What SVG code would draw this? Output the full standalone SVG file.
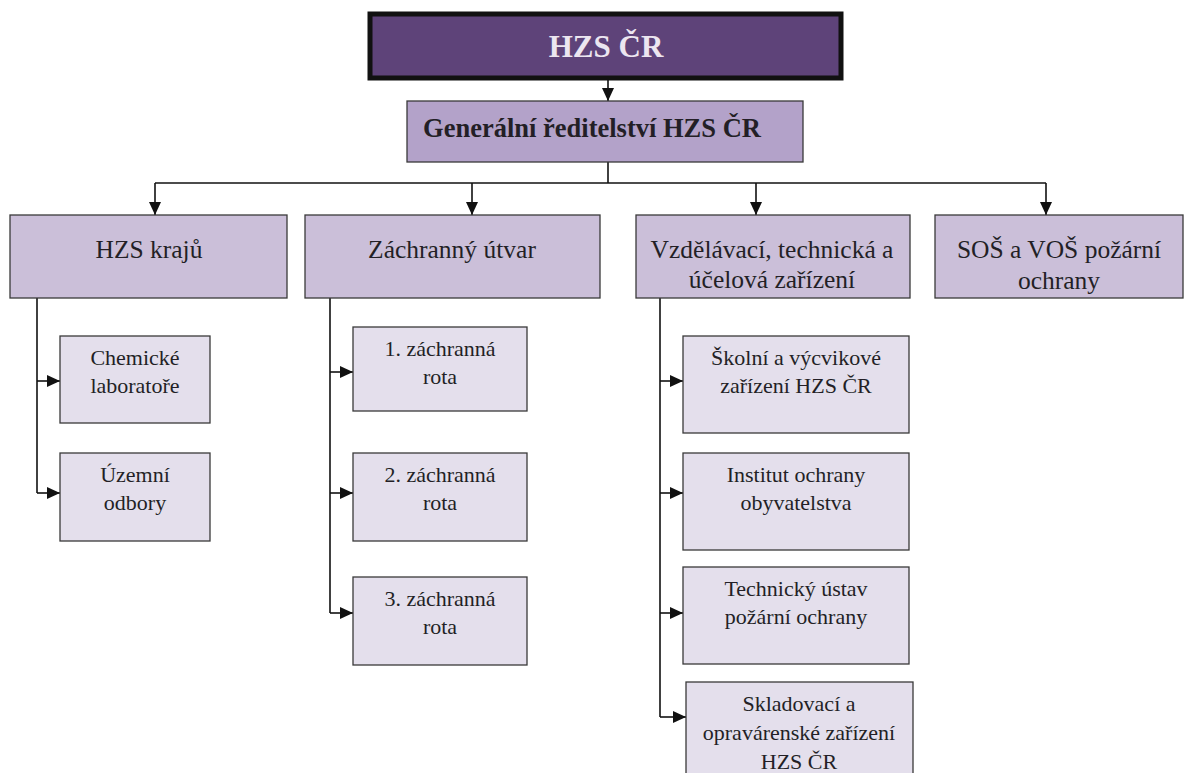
<svg xmlns="http://www.w3.org/2000/svg" width="1195" height="773" viewBox="0 0 1195 773">
<style>
text{font-family:"Liberation Serif","Times New Roman",serif;fill:#231f26;text-anchor:middle}
.l2{fill:#cbbfd9;stroke:#3a3a3a;stroke-width:1.3}
.sub{fill:#e4dfec;stroke:#3a3a3a;stroke-width:1.3}
.t2{font-size:25.5px}
.ts{font-size:22px}
.c{fill:none;stroke:#111;stroke-width:1.6}
</style>
<defs>
<marker id="ah" markerUnits="userSpaceOnUse" markerWidth="14" markerHeight="13" refX="13" refY="6" orient="auto">
<path d="M0,0 L13,6 L0,12 z" fill="#111"/>
</marker>
<clipPath id="clipSos"><rect x="935" y="215" width="248" height="83"/></clipPath>
</defs>
<rect width="1195" height="773" fill="#fff"/>

<g id="connectors">
<line class="c" x1="608" y1="80" x2="608" y2="101" marker-end="url(#ah)"/>
<line class="c" x1="608" y1="162" x2="608" y2="183"/>
<line class="c" x1="155" y1="183" x2="1046" y2="183"/>
<line class="c" x1="155" y1="183" x2="155" y2="215" marker-end="url(#ah)"/>
<line class="c" x1="472" y1="183" x2="472" y2="215" marker-end="url(#ah)"/>
<line class="c" x1="756" y1="183" x2="756" y2="215" marker-end="url(#ah)"/>
<line class="c" x1="1046" y1="183" x2="1046" y2="215" marker-end="url(#ah)"/>
<line class="c" x1="37" y1="298" x2="37" y2="493"/>
<line class="c" x1="37" y1="381" x2="60" y2="381" marker-end="url(#ah)"/>
<line class="c" x1="37" y1="493" x2="60" y2="493" marker-end="url(#ah)"/>
<line class="c" x1="330" y1="298" x2="330" y2="613"/>
<line class="c" x1="330" y1="372" x2="353" y2="372" marker-end="url(#ah)"/>
<line class="c" x1="330" y1="493" x2="353" y2="493" marker-end="url(#ah)"/>
<line class="c" x1="330" y1="613" x2="353" y2="613" marker-end="url(#ah)"/>
<line class="c" x1="660" y1="298" x2="660" y2="717"/>
<line class="c" x1="660" y1="381" x2="683" y2="381" marker-end="url(#ah)"/>
<line class="c" x1="660" y1="493" x2="683" y2="493" marker-end="url(#ah)"/>
<line class="c" x1="660" y1="613" x2="683" y2="613" marker-end="url(#ah)"/>
<line class="c" x1="660" y1="717" x2="686" y2="717" marker-end="url(#ah)"/>
</g>

<g id="hzs-cr">
<rect x="370" y="14" width="471" height="64" fill="#5e4379" stroke="#111" stroke-width="5"/>
<text x="606" y="57" font-size="31" font-weight="bold" style="fill:#ece6f0">HZS ČR</text>
</g>

<g id="generalni">
<rect x="407" y="101" width="396" height="61" fill="#b3a2c9" stroke="#3a3a3a" stroke-width="1.3"/>
<text x="592" y="137" font-size="26.5" font-weight="bold">Generální ředitelství HZS ČR</text>
</g>

<g id="hzs-kraju">
<rect class="l2" x="10" y="215" width="277" height="83"/>
<text class="t2" x="149" y="258">HZS krajů</text>
</g>

<g id="zachranny-utvar">
<rect class="l2" x="305" y="215" width="295" height="83"/>
<text class="t2" x="452" y="258">Záchranný útvar</text>
</g>

<g id="vzdelavaci">
<rect class="l2" x="636" y="215" width="274" height="83"/>
<text class="t2" x="772" y="258">Vzdělávací, technická a</text>
<text class="t2" x="772" y="288">účelová zařízení</text>
</g>

<g id="sos-vos">
<rect class="l2" x="935" y="215" width="248" height="83"/>
<text class="t2" x="1059" y="258">SOŠ a VOŠ požární</text>
<text class="t2" x="1059" y="289" clip-path="url(#clipSos)">ochrany</text>
</g>

<g id="chemicke">
<rect class="sub" x="60" y="336" width="150" height="87"/>
<text class="ts" x="135" y="365">Chemické</text>
<text class="ts" x="135" y="393">laboratoře</text>
</g>

<g id="uzemni">
<rect class="sub" x="60" y="453" width="150" height="88"/>
<text class="ts" x="135" y="482">Územní</text>
<text class="ts" x="135" y="510">odbory</text>
</g>

<g id="rota1">
<rect class="sub" x="353" y="327" width="174" height="84"/>
<text class="ts" x="440" y="356">1. záchranná</text>
<text class="ts" x="440" y="384">rota</text>
</g>

<g id="rota2">
<rect class="sub" x="353" y="453" width="174" height="88"/>
<text class="ts" x="440" y="482">2. záchranná</text>
<text class="ts" x="440" y="510">rota</text>
</g>

<g id="rota3">
<rect class="sub" x="353" y="577" width="174" height="88"/>
<text class="ts" x="440" y="606">3. záchranná</text>
<text class="ts" x="440" y="634">rota</text>
</g>

<g id="skolni">
<rect class="sub" x="683" y="336" width="226" height="97"/>
<text class="ts" x="796" y="365">Školní a výcvikové</text>
<text class="ts" x="796" y="393">zařízení HZS ČR</text>
</g>

<g id="institut">
<rect class="sub" x="683" y="453" width="226" height="97"/>
<text class="ts" x="796" y="482">Institut ochrany</text>
<text class="ts" x="796" y="510">obyvatelstva</text>
</g>

<g id="technicky">
<rect class="sub" x="683" y="567" width="226" height="97"/>
<text class="ts" x="796" y="596">Technický ústav</text>
<text class="ts" x="796" y="624">požární ochrany</text>
</g>

<g id="skladovaci">
<rect class="sub" x="686" y="682" width="227" height="100"/>
<text class="ts" x="799" y="711">Skladovací a</text>
<text class="ts" x="799" y="740">opravárenské zařízení</text>
<text class="ts" x="799" y="769">HZS ČR</text>
</g>
</svg>
